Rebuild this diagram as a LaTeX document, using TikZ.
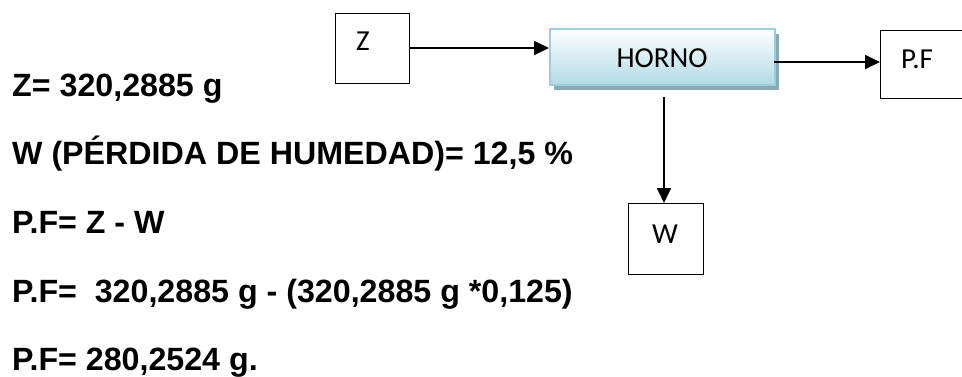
\documentclass[tikz,border=0pt]{standalone}
\usepackage{fontspec}
\setmainfont{Liberation Sans}
\newfontfamily\boxfont{Carlito}
\usetikzlibrary{arrows.meta,shadows}
\definecolor{ovenedge}{HTML}{9CCFDC}
\definecolor{ovenbottom}{HTML}{B0DBE6}
\definecolor{ovenshadow}{HTML}{8FA9B2}
\tikzset{
  box/.style={draw=black, line width=1.3pt, inner sep=0pt},
  boxlabel/.style={font=\boxfont\fontsize{29}{32}\selectfont, inner sep=0pt, anchor=base},
  eqline/.style={font=\bfseries\fontsize{32.2}{36}\selectfont, inner sep=0pt, anchor=base west},
  flow/.style={line width=1.8pt, -{Triangle[length=15pt,width=14pt]}},
}
\begin{document}
\begin{tikzpicture}[x=1pt,y=-1pt]
\useasboundingbox (0,0) rectangle (962,376);

% process blocks
\node[box, minimum width=74pt, minimum height=70pt, anchor=north west] (z) at (335,13) {};
\node[boxlabel] (zl) at (363,50) {Z};

\node[draw=ovenedge, line width=1.5pt, top color=white, bottom color=ovenbottom,
      minimum width=225pt, minimum height=56pt, anchor=north west,
      general shadow={fill=ovenshadow, shadow xshift=4pt, shadow yshift=-5pt}] (horno) at (549,28) {};
\node[boxlabel] (hl) at (662,67) {HORNO};

\node[box, minimum width=90pt, minimum height=68pt, anchor=north west] (pf) at (880,30) {};
\node[boxlabel] (pfl) at (917,68) {P.F};

\node[box, minimum width=75pt, minimum height=71pt, anchor=north west] (w) at (628,203) {};
\node[boxlabel] (wl) at (665,243) {W};

% flows
\coordinate (zout) at (409,48);
\coordinate (hout) at (774,62);
\coordinate (hdown) at (664,97);
\draw[flow] (zout) -- (zout -| horno.west);
\draw[flow] (hout) -- (hout -| pf.west);
\draw[flow] (hdown) -- (hdown |- w.north);

% mass balance
\node[eqline] (e1) at (12,96) {Z= 320,2885 g};
\node[eqline] (e2) at (12,164) {W (PÉRDIDA DE HUMEDAD)= 12,5 \%};
\node[eqline] (e3) at (12,233) {P.F= Z - W};
\node[eqline] (e4) at (12,302) {P.F=\ \ 320,2885 g - (320,2885 g *0,125)};
\node[eqline] (e5) at (12,370) {P.F= 280,2524 g.};
\end{tikzpicture}
\end{document}
